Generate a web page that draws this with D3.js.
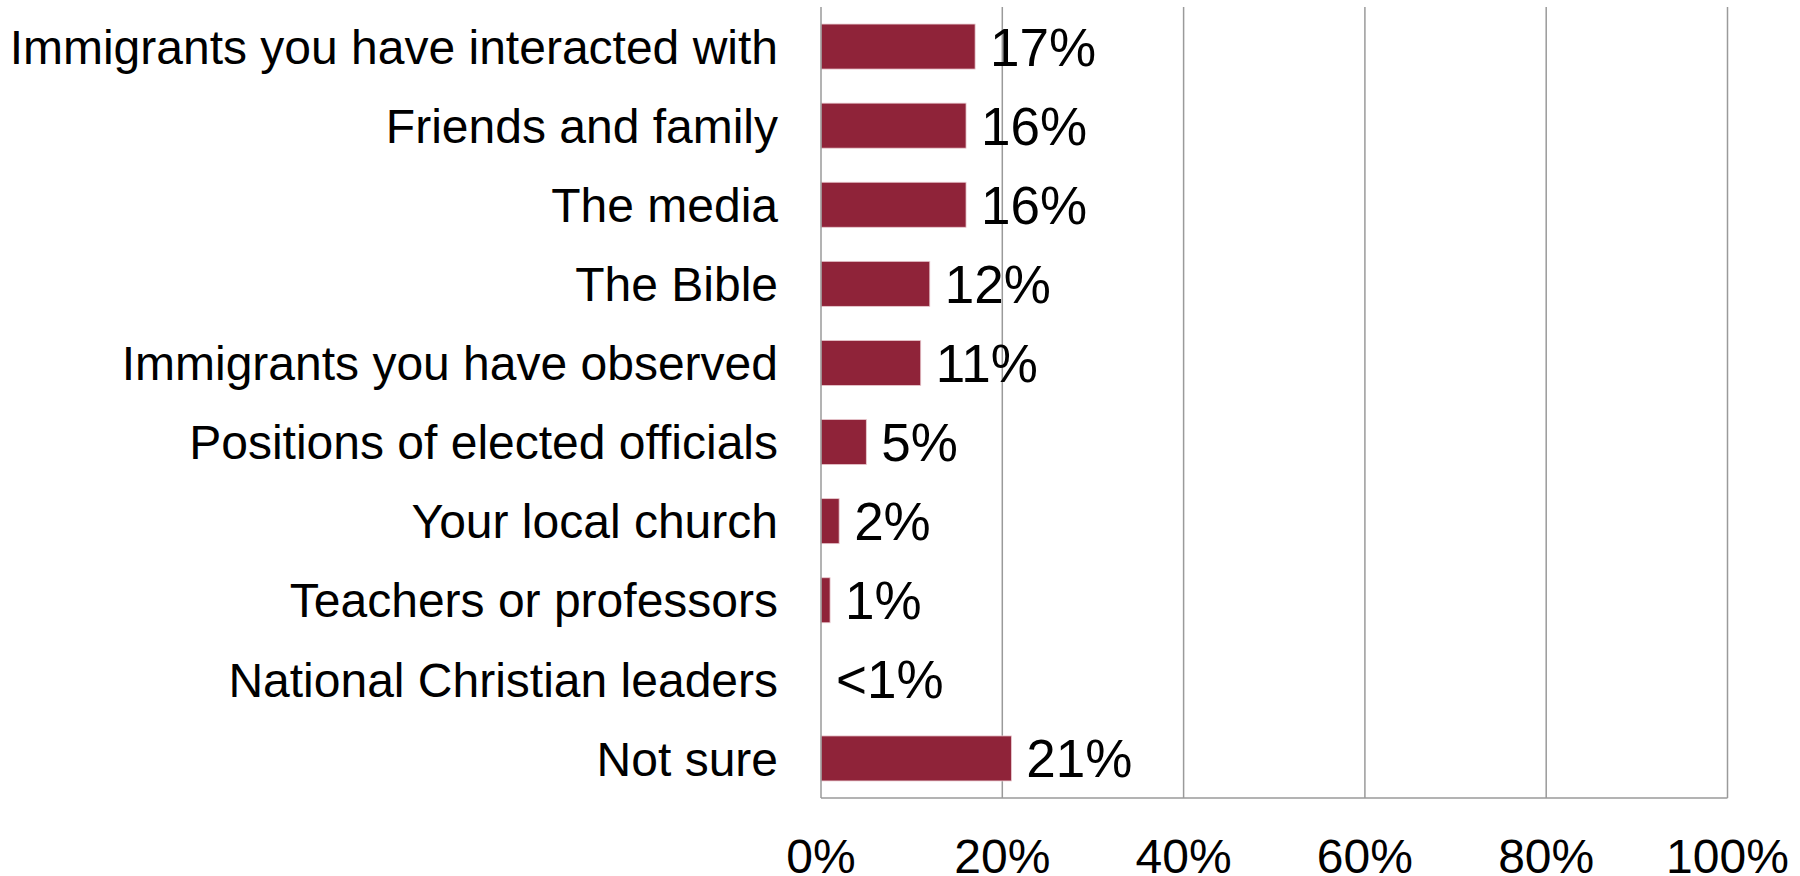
<!DOCTYPE html>
<html>
<head>
<meta charset="utf-8">
<script src="https://cdn.jsdelivr.net/npm/d3@7"></script>
<style>
  html, body { margin: 0; padding: 0; background: #ffffff; }
  svg { display: block; }
  text { font-family: "Liberation Sans", Arial, sans-serif; fill: #000; }
</style>
</head>
<body>
<svg id="chart" width="1800" height="876"></svg>
<script>
const categories = [
  "Immigrants you have interacted with",
  "Friends and family",
  "The media",
  "The Bible",
  "Immigrants you have observed",
  "Positions of elected officials",
  "Your local church",
  "Teachers or professors",
  "National Christian leaders",
  "Not sure"
];
const values = [17, 16, 16, 12, 11, 5, 2, 1, 0, 21];
const valueLabels = ["17%", "16%", "16%", "12%", "11%", "5%", "2%", "1%", "<1%", "21%"];
const tickValues = [0, 20, 40, 60, 80, 100];
const tickLabels = ["0%", "20%", "40%", "60%", "80%", "100%"];

(function () {
const svg = d3.select("#chart");
const plotLeft = 821, plotRight = 1727.5, plotTop = 7, plotBottom = 798;

const x = d3.scaleLinear().domain([0, 100]).range([plotLeft, plotRight]);
const y = d3.scaleBand().domain(categories).range([plotTop, plotBottom])
  .paddingInner(0.431).paddingOuter(0.2155);

// gridlines
svg.append("g").selectAll("line")
  .data(tickValues.slice(1))
  .join("line")
  .attr("x1", d => x(d)).attr("x2", d => x(d))
  .attr("y1", plotTop).attr("y2", plotBottom)
  .attr("stroke", "#9a9a9a").attr("stroke-width", 1.5);

// bars
svg.append("g").selectAll("rect")
  .data(categories)
  .join("rect")
  .attr("x", x(0))
  .attr("y", d => y(d))
  .attr("width", (d, i) => x(values[i]) - x(0))
  .attr("height", y.bandwidth())
  .attr("fill", "#8f2339")
  .attr("stroke", "#e9c9cf")
  .attr("stroke-width", 0.8);

// axis lines
svg.append("line")
  .attr("x1", plotLeft).attr("x2", plotLeft).attr("y1", plotTop).attr("y2", plotBottom)
  .attr("stroke", "#9a9a9a").attr("stroke-width", 1.5);
svg.append("line")
  .attr("x1", plotLeft).attr("x2", plotRight).attr("y1", plotBottom).attr("y2", plotBottom)
  .attr("stroke", "#9a9a9a").attr("stroke-width", 1.5);

// category labels
svg.append("g").selectAll("text")
  .data(categories)
  .join("text")
  .attr("x", plotLeft - 43)
  .attr("y", d => y(d) + y.bandwidth() / 2)
  .attr("dy", "0.358em")
  .attr("text-anchor", "end")
  .style("font-size", "48px")
  .text(d => d);

// value labels
svg.append("g").selectAll("text")
  .data(categories)
  .join("text")
  .attr("x", (d, i) => x(values[i]) + 15)
  .attr("y", d => y(d) + y.bandwidth() / 2)
  .attr("dy", "0.358em")
  .style("font-size", "53px")
  .text((d, i) => valueLabels[i]);

// tick labels
svg.append("g").selectAll("text")
  .data(tickValues)
  .join("text")
  .attr("x", d => x(d))
  .attr("y", 873)
  .attr("text-anchor", "middle")
  .style("font-size", "48px")
  .text((d, i) => tickLabels[i]);
})();
</script>
</body>
</html>
